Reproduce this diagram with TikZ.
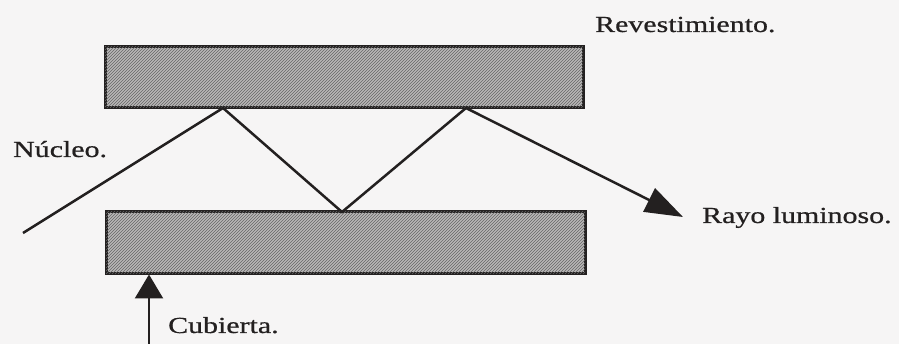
\documentclass[tikz,border=0pt]{standalone}
\usepackage{fontspec}
\usepackage{graphicx}
\setmainfont{Liberation Serif}
\usetikzlibrary{patterns,arrows.meta}
\definecolor{bg}{RGB}{246,245,245}
\definecolor{hatchfill}{RGB}{185,183,183}
\definecolor{ink}{RGB}{35,32,32}
\begin{document}
\begin{tikzpicture}[x=1pt,y=-1pt,
  layer/.style={draw=ink, line width=3pt, fill=hatchfill, minimum width=478pt, minimum height=61pt, inner sep=0pt,
    postaction={pattern=north east lines, pattern color=black!60}},
  lab/.style={anchor=base west, inner sep=0pt, font=\fontsize{23}{27}\selectfont\addfontfeature{FakeBold=0.6}, text=ink},
  ray/.style={line width=2.5pt, draw=ink, line join=miter},
]
\fill[bg] (0,0) rectangle (899,344);
\useasboundingbox (0,0) rectangle (899,344);

% layers
\node[layer] (top) at (344,77.5) {};
\node[layer, minimum width=479pt, minimum height=62pt] (bot) at (345.5,243) {};

% ray vertices
\coordinate (r0) at (23,233);
\coordinate (r1) at (223,108);
\coordinate (r2) at (342,212);
\coordinate (r3) at (466,108);
\coordinate (r4) at (683,217);

\draw[ray, -{Triangle[length=38pt,width=26pt]}] (r0) -- (r1) -- (r2) -- (r3) -- (r4);

% cubierta arrow
\coordinate (cubstart) at (149,345);
\coordinate (cubtip) at (149,274.5);
\draw[line width=2.5pt, draw=ink, -{Triangle[length=24pt,width=28pt]}] (cubstart) -- (cubtip);

% labels
\node[lab] (lrev) at (595,32) {\scalebox{1.3}[1]{Revestimiento.}};
\node[lab] (lnuc) at (13,157) {\scalebox{1.3}[1]{Núcleo.}};
\node[lab] (lray) at (702,223) {\scalebox{1.3}[1]{Rayo luminoso.}};
\node[lab] (lcub) at (168,333) {\scalebox{1.3}[1]{Cubierta.}};
\end{tikzpicture}
\end{document}
